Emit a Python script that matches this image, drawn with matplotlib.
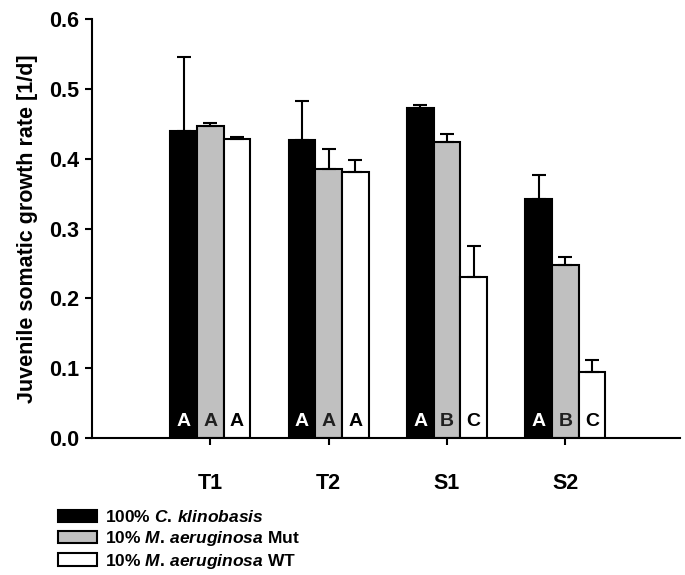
import matplotlib.pyplot as plt
import numpy as np
from matplotlib.patches import Patch

plt.rcParams['font.family'] = ['Liberation Sans', 'DejaVu Sans']
plt.rcParams['font.weight'] = 'bold'
plt.rcParams['mathtext.fontset'] = 'custom'
plt.rcParams['mathtext.it'] = 'Liberation Sans:italic:bold'
plt.rcParams['mathtext.rm'] = 'Liberation Sans:bold'

grupos = ['T1', 'T2', 'S1', 'S2']
series = ['100% $\\mathit{C.\\,klinobasis}$',
          '10% $\\mathit{M.\\,aeruginosa}$ Mut',
          '10% $\\mathit{M.\\,aeruginosa}$ WT']
colores = ['black', '#c0c0c0', 'white']
color_letra = ['white', '#202020', 'black']

# medias y limite superior del error
klinobasis = [0.440, 0.427, 0.472, 0.342]
mut = [0.447, 0.385, 0.424, 0.248]
wt = [0.428, 0.381, 0.231, 0.094]
klinobasis_err = [0.105, 0.055, 0.005, 0.035]
mut_err = [0.004, 0.029, 0.012, 0.012]
wt_err = [0.003, 0.017, 0.044, 0.018]
letras = [['A', 'A', 'A', 'A'], ['A', 'A', 'B', 'B'], ['A', 'A', 'C', 'C']]

valores = [klinobasis, mut, wt]
errores = [klinobasis_err, mut_err, wt_err]

fig = plt.figure(figsize=(6.85, 5.75), dpi=100)
ax = fig.add_axes([0.134, 0.238, 0.859, 0.729])

x = np.arange(len(grupos))
ancho = 0.225
for i in range(3):
    pos = x + (i - 1) * ancho
    ax.bar(pos, valores[i], ancho, color=colores[i], edgecolor='black', linewidth=1.5,
           yerr=[np.zeros(4), errores[i]], capsize=5,
           error_kw=dict(ecolor='black', elinewidth=1.5, capthick=1.5), zorder=2)
    for j in range(4):
        ax.text(pos[j], 0.024, letras[i][j], ha='center', va='center', fontsize=14,
                color=color_letra[i], fontweight='bold', zorder=3)

ax.set_xlim(-1.0, 3.97)
ax.set_ylim(0, 0.6)
ax.set_xticks(x)
ax.set_xticklabels(grupos, fontsize=15.5)
ax.set_yticks([0.0, 0.1, 0.2, 0.3, 0.4, 0.5, 0.6])
ax.set_yticklabels(['0.0', '0.1', '0.2', '0.3', '0.4', '0.5', '0.6'], fontsize=15.5)
ax.tick_params(axis='x', direction='out', length=5, width=1.5, pad=20)
ax.tick_params(axis='y', direction='out', length=5, width=1.5, pad=4)
ax.spines['top'].set_visible(False)
ax.spines['right'].set_visible(False)
ax.spines['left'].set_linewidth(1.5)
ax.spines['bottom'].set_linewidth(1.5)
ax.set_ylabel('Juvenile somatic growth rate [1/d]', fontsize=15.5, fontweight='bold', labelpad=8)

handles = [Patch(facecolor=colores[i], edgecolor='black', linewidth=1.5) for i in range(3)]
fig.legend(handles, series, loc='upper left', bbox_to_anchor=(0.075, 0.127), frameon=False,
           fontsize=12.5, handlelength=2.2, handleheight=0.7, handletextpad=0.5,
           labelspacing=0.22, borderaxespad=0)

fig.savefig('out.png', dpi=100)
